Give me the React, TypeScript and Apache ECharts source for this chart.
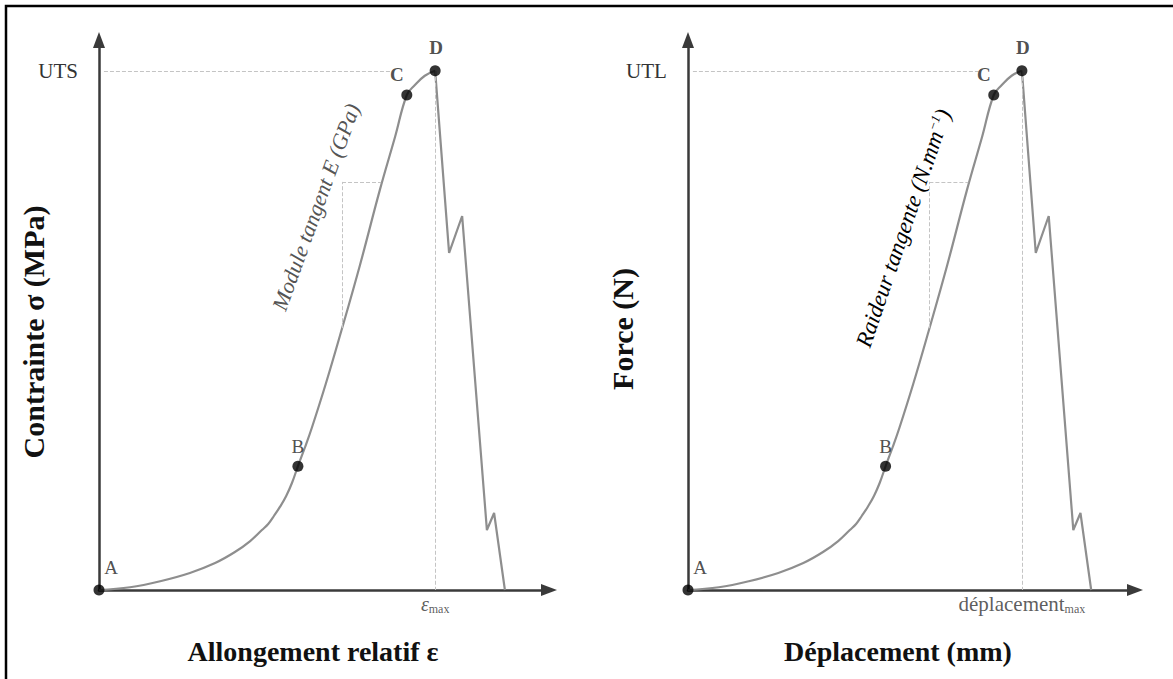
import React, { useEffect, useRef } from 'react';
import * as echarts from 'echarts';

// ---- data (arbitrary units) ----
const stressRising: [number, number][] = [
  [0, 0], [6.9, 0.5], [13.6, 1.6], [20.2, 3.1], [25.8, 4.9], [30.2, 6.9], [33.6, 8.9],
  [36.2, 10.9], [37.6, 12.0], [38.9, 13.5], [40.2, 15.1], [41.6, 17.1], [42.9, 19.5],
  [44.2, 22.5], [45.8, 26.0], [47.3, 29.5], [50.4, 37.5], [53.6, 46.4], [58.0, 59.1],
  [62.4, 72.7], [65.8, 82.4], [68.4, 90.0], [70.2, 91.8], [72.4, 93.5], [74.7, 94.4],
];
const stressFailure: [number, number][] = [
  [74.7, 94.4], [77.8, 61.3], [80.7, 68.0], [86.2, 10.9], [87.8, 14.0], [90.2, 0],
];
const forceRising: [number, number][] = [
  [0, 0], [6.9, 0.5], [13.6, 1.6], [20.2, 3.1], [25.8, 4.9], [30.2, 6.9], [33.6, 8.9],
  [36.2, 10.9], [37.6, 12.0], [38.9, 13.5], [40.2, 15.1], [41.6, 17.1], [42.9, 19.5],
  [44.2, 22.5], [45.8, 26.0], [47.3, 29.5], [50.4, 37.5], [53.6, 46.4], [58.0, 59.1],
  [62.4, 72.7], [65.8, 82.4], [68.4, 90.0], [70.2, 91.8], [72.4, 93.5], [74.7, 94.4],
];
const forceFailure: [number, number][] = [
  [74.7, 94.4], [77.8, 61.3], [80.7, 68.0], [86.2, 10.9], [87.8, 14.0], [90.2, 0],
];
const pointNames = ['A', 'B', 'C', 'D'];
const stressPoints: [number, number][] = [[0, 0], [44.2, 22.5], [68.4, 90.0], [74.7, 94.4]];
const forcePoints: [number, number][] = [[0, 0], [44.2, 22.5], [68.4, 90.0], [74.7, 94.4]];
const peakLineStart = 1.1;
const peakLineEnd = 65;
const tangentX = 54.0;
const tangentLow = 47.6;
const tangentHigh = 74.2;
const tangentEndX = 62.7;
const axisMax = 100;

const SERIF = "'Liberation Serif', 'Times New Roman', serif";
const labelOffsets: Record<string, number[]> = { A: [12, -3], B: [0, 0], C: [-10, -1], D: [1, -3] };

function buildPanel(
  idx: number,
  rising: [number, number][],
  failure: [number, number][],
  points: [number, number][],
  peakName: string,
  maxLabel: string,
  maxRich: any
) {
  const peak = points[3];
  return [
    {
      type: 'line',
      xAxisIndex: idx,
      yAxisIndex: idx,
      data: rising,
      smooth: 0.4,
      showSymbol: false,
      lineStyle: { color: '#8e8e8e', width: 2.2 },
      z: 3,
      markLine: {
        silent: true,
        symbol: ['none', 'none'],
        animation: false,
        lineStyle: { type: 'dashed', color: '#c4c4c4', width: 1 },
        label: { show: false },
        data: [
          [
            {
              coord: [peakLineStart, peak[1]],
              label: {
                show: true,
                position: 'start',
                formatter: peakName,
                distance: 26,
                color: '#333',
                fontSize: 21,
                fontFamily: SERIF,
              },
            },
            { coord: [peakLineEnd, peak[1]] },
          ],
          [{ coord: [peak[0], peak[1]] }, { coord: [peak[0], 0] }],
          [{ coord: [tangentX, tangentLow] }, { coord: [tangentX, tangentHigh] }],
          [{ coord: [tangentX, tangentHigh] }, { coord: [tangentEndX, tangentHigh] }],
        ],
      },
    },
    {
      type: 'line',
      xAxisIndex: idx,
      yAxisIndex: idx,
      data: failure,
      showSymbol: false,
      lineStyle: { color: '#8e8e8e', width: 2.2 },
      z: 3,
    },
    {
      type: 'scatter',
      xAxisIndex: idx,
      yAxisIndex: idx,
      symbolSize: 11,
      itemStyle: { color: '#000' },
      z: 5,
      data: points.map((p, i) => ({
        name: pointNames[i],
        value: p,
        label: {
          show: true,
          position: 'top',
          formatter: '{b}',
          offset: labelOffsets[pointNames[i]],
          color: '#222',
          fontSize: 19,
          fontWeight: i >= 2 ? 'bold' : 'normal',
          fontFamily: SERIF,
        },
      })),
    },
    {
      type: 'scatter',
      xAxisIndex: idx,
      yAxisIndex: idx,
      symbolSize: 0,
      silent: true,
      data: [
        {
          value: [peak[0], 0],
          label: {
            show: true,
            position: 'bottom',
            distance: 3,
            formatter: maxLabel,
            rich: maxRich,
          },
        },
      ],
    },
  ];
}

function axes(idx: number) {
  const line = {
    show: true,
    symbol: ['none', 'triangle'],
    symbolSize: [12, 16],
    lineStyle: { color: '#3a3a3a', width: 2.5 },
  };
  const base = {
    gridIndex: idx,
    type: 'value',
    min: 0,
    max: axisMax,
    axisLine: { ...line, onZero: false },
    axisTick: { show: false },
    axisLabel: { show: false },
    splitLine: { show: false },
  };
  return { x: { ...base }, y: { ...base } };
}

export default function App() {
  const ref = useRef<HTMLDivElement>(null);
  useEffect(() => {
    if (!ref.current) return;
    const chart = echarts.init(ref.current, undefined, { renderer: 'svg' });
    const a0 = axes(0);
    const a1 = axes(1);
    const titleStyle = { fontFamily: SERIF, fontSize: 28, fontWeight: 'bold', fill: '#111' };
    const vTitleStyle = { ...titleStyle, fontSize: 30 };
    const noteStyle = { fontFamily: SERIF, fontSize: 22, fontStyle: 'italic', fill: '#555' };
    const subRich = (main: any) => ({
      e: main,
      m: { fontFamily: SERIF, fontSize: 12, color: '#333', verticalAlign: 'bottom', padding: [10, 0, 0, 0] },
    });
    const option: any = {
      animation: false,
      backgroundColor: '#fff',
      grid: [
        { left: 99, top: 40, width: 450, height: 550 },
        { left: 688, top: 40, width: 447, height: 550 },
      ],
      xAxis: [a0.x, a1.x],
      yAxis: [a0.y, a1.y],
      series: [
        ...buildPanel(0, stressRising, stressFailure, stressPoints, 'UTS', '{e|ε}{m|max}',
          subRich({ fontFamily: SERIF, fontSize: 20, fontStyle: 'italic', color: '#333' })),
        ...buildPanel(1, forceRising, forceFailure, forcePoints, 'UTL', '{e|déplacement}{m|max}',
          subRich({ fontFamily: SERIF, fontSize: 21, color: '#333' })),
      ],
      graphic: [
        {
          type: 'rect',
          shape: { x: 6, y: 6, width: 1400, height: 900 },
          style: { fill: 'none', stroke: '#000', lineWidth: 2.5 },
          silent: true,
        },
        {
          type: 'text',
          x: 33,
          y: 332,
          rotation: Math.PI / 2,
          style: { ...vTitleStyle, text: 'Contrainte σ (MPa)', align: 'center', verticalAlign: 'middle' },
        },
        {
          type: 'text',
          x: 313,
          y: 651,
          style: { ...titleStyle, text: 'Allongement relatif ε', align: 'center', verticalAlign: 'middle' },
        },
        {
          type: 'text',
          x: 622,
          y: 329,
          rotation: Math.PI / 2,
          style: { ...vTitleStyle, text: 'Force (N)', align: 'center', verticalAlign: 'middle' },
        },
        {
          type: 'text',
          x: 898,
          y: 651,
          style: { ...titleStyle, text: 'Déplacement (mm)', align: 'center', verticalAlign: 'middle' },
        },
        {
          type: 'text',
          x: 316,
          y: 207,
          rotation: (70 * Math.PI) / 180,
          style: { ...noteStyle, text: 'Module tangent E (GPa)', align: 'center', verticalAlign: 'middle' },
        },
        {
          type: 'text',
          x: 903,
          y: 228,
          rotation: (71 * Math.PI) / 180,
          style: {
            text: '{n|Raideur tangente (N.mm}{s|−1}{n|)}',
            align: 'center',
            verticalAlign: 'middle',
            rich: {
              n: { fontFamily: SERIF, fontSize: 23, fontStyle: 'italic', color: '#555' },
              s: { fontFamily: SERIF, fontSize: 13, fontStyle: 'italic', color: '#555', verticalAlign: 'top', padding: [0, 0, 10, 0] },
            },
          },
        },
      ],
    };
    chart.setOption(option);
    return () => chart.dispose();
  }, []);
  return (
    <div
      ref={ref}
      style={{ position: 'absolute', left: 0, top: 0, width: 1173, height: 679 }}
    />
  );
}
